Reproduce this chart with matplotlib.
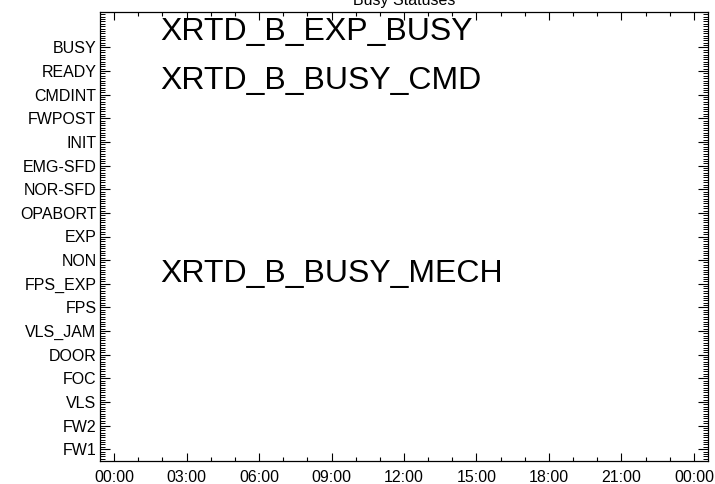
import matplotlib
matplotlib.use("Agg")
import matplotlib.pyplot as plt
from matplotlib.ticker import FixedLocator, MultipleLocator, AutoMinorLocator

plt.rcParams['font.family'] = ['Liberation Sans', 'DejaVu Sans']

# status rows, bottom to top
statuses = ["FW1", "FW2", "VLS", "FOC", "DOOR", "VLS_JAM", "FPS", "FPS_EXP",
            "NON", "EXP", "OPABORT", "NOR-SFD", "EMG-SFD", "INIT", "FWPOST",
            "CMDINT", "READY", "BUSY"]

# time axis in hours of the day
hour_ticks = [0, 3, 6, 9, 12, 15, 18, 21, 24]
hour_labels = ["00:00", "03:00", "06:00", "09:00", "12:00", "15:00", "18:00", "21:00", "00:00"]

# status flag names written on the plot (x in hours, y in row units)
flag_names = ["XRTD_B_EXP_BUSY", "XRTD_B_BUSY_CMD", "XRTD_B_BUSY_MECH"]
flag_x = [1.92, 1.92, 1.92]
flag_y = [17.32, 15.23, 7.08]

fig = plt.figure(figsize=(7.15, 4.84), dpi=100)
ax = fig.add_axes([100 / 715, 23 / 484, 608 / 715, 449 / 484])

ax.set_xlim(-0.58, 24.58)
ax.set_ylim(-0.5, 18.5)

ax.xaxis.set_major_locator(FixedLocator(hour_ticks))
ax.set_xticklabels(hour_labels)
ax.xaxis.set_minor_locator(MultipleLocator(1))

ax.yaxis.set_major_locator(FixedLocator(range(len(statuses))))
ax.set_yticklabels(statuses)
ax.yaxis.set_minor_locator(AutoMinorLocator(10))

ax.tick_params(axis='x', which='major', direction='in', length=6, width=0.8,
               top=True, labelsize=11.5, pad=6.5)
ax.tick_params(axis='x', which='minor', direction='in', length=3, width=0.8, top=True)
ax.tick_params(axis='y', which='major', direction='in', length=7.5, width=0.8,
               right=True, labelsize=11.5, pad=2.5)
ax.tick_params(axis='y', which='minor', direction='in', length=3.5, width=0.7, right=True)

for spine in ax.spines.values():
    spine.set_linewidth(0.9)

for name, x, y in zip(flag_names, flag_x, flag_y):
    ax.text(x, y, name, fontsize=23, ha='left', va='baseline')

fig.text(0.5 * (100 + 708) / 715, 1 - 5 / 484, "Busy Statuses",
         ha='center', va='baseline', fontsize=11.5)

fig.savefig("out.png", dpi=100)
